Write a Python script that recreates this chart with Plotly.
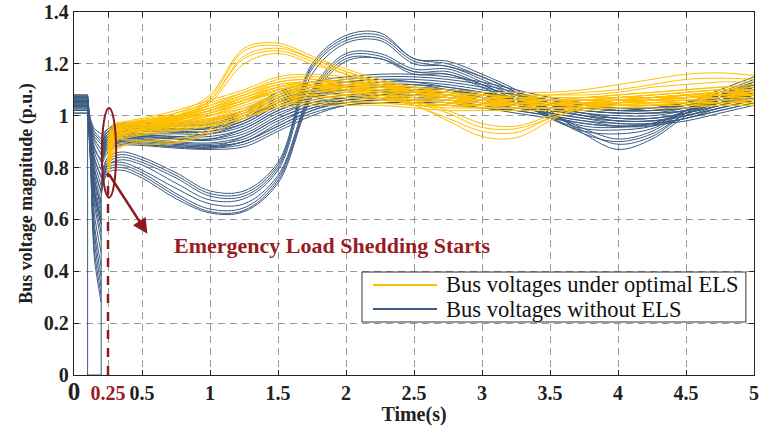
import plotly.graph_objects as go

# ---------------- data ----------------
T_PRE = [0, 0.1]
T_FAULT = [0.1, 0.12, 0.15, 0.2]
T_POST = [0.2, 0.25, 0.35, 0.5, 0.75, 1.0, 1.25, 1.5, 1.75, 2.0, 2.25, 2.5, 2.75,
          3.0, 3.25, 3.5, 3.75, 4.0, 4.25, 4.5, 4.75, 5.0]
T_ELS = [0.25, 0.3, 0.4, 0.5, 0.75, 1.0, 1.25, 1.5, 1.75, 2.0, 2.25, 2.5, 2.75,
         3.0, 3.25, 3.5, 3.75, 4.0, 4.25, 4.5, 4.75, 5.0]

blue_pre = [1.08, 1.075, 1.07, 1.065, 1.06, 1.06, 1.055, 1.05, 1.05, 1.045, 1.04, 1.04,
            1.035, 1.03, 1.02, 1.01, 1.08, 1.07, 1.06, 1.05, 1.04, 1.03, 1.02, 1.01,
            1.075, 1.065, 1.055, 1.045, 1.035, 1.025]
blue_f1 = [0.99, 0.98, 0.98, 0.97, 0.96, 0.96, 0.95, 0.95, 0.94, 0.93, 0.93, 0.92,
           0.91, 0.90, 0.89, 0.88, 0.90, 0.89, 0.88, 0.87, 0.86, 0.85, 0.84, 0.83,
           0.97, 0.96, 0.95, 0.94, 0.93, 0.92]
blue_f2 = [0.95, 0.94, 0.93, 0.91, 0.90, 0.88, 0.86, 0.84, 0.82, 0.80, 0.78, 0.76,
           0.74, 0.72, 0.70, 0.68, 0.70, 0.66, 0.62, 0.58, 0.55, 0.52, 0.48, 0.45,
           0.92, 0.87, 0.83, 0.79, 0.75, 0.71]
blue_f3 = [0.93, 0.91, 0.90, 0.87, 0.85, 0.82, 0.79, 0.76, 0.73, 0.70, 0.67, 0.64,
           0.62, 0.60, 0.58, 0.55, 0.58, 0.52, 0.47, 0.42, 0.38, 0.34, 0.31, 0.28,
           0.89, 0.83, 0.77, 0.71, 0.66, 0.60]

# faulted bus (voltage collapses to zero during the fault)
fault_bus_t = [0, 0.1, 0.1, 0.2, 0.2]
fault_bus_v = [1.05, 1.05, 0, 0, 0.69]

blue_post = [
    [0.90, 0.95, 0.97, 0.97, 0.97, 0.98, 1.02, 1.09, 1.13, 1.15, 1.16, 1.16, 1.15, 1.13, 1.10, 1.07, 1.05, 1.04, 1.04, 1.05, 1.10, 1.15],
    [0.89, 0.94, 0.96, 0.96, 0.965, 0.97, 1.01, 1.08, 1.12, 1.14, 1.15, 1.15, 1.14, 1.12, 1.09, 1.06, 1.04, 1.03, 1.03, 1.05, 1.09, 1.14],
    [0.88, 0.94, 0.955, 0.955, 0.96, 0.965, 1.0, 1.07, 1.11, 1.13, 1.14, 1.14, 1.13, 1.11, 1.08, 1.06, 1.04, 1.03, 1.03, 1.04, 1.08, 1.13],
    [0.87, 0.93, 0.95, 0.95, 0.95, 0.955, 0.99, 1.06, 1.10, 1.12, 1.13, 1.13, 1.12, 1.10, 1.08, 1.05, 1.03, 1.02, 1.02, 1.04, 1.07, 1.12],
    [0.86, 0.92, 0.94, 0.945, 0.945, 0.95, 0.98, 1.05, 1.09, 1.11, 1.12, 1.12, 1.11, 1.09, 1.07, 1.05, 1.03, 1.02, 1.02, 1.03, 1.07, 1.11],
    [0.86, 0.92, 0.935, 0.94, 0.94, 0.94, 0.97, 1.04, 1.08, 1.10, 1.11, 1.11, 1.10, 1.08, 1.06, 1.04, 1.02, 1.01, 1.01, 1.03, 1.06, 1.10],
    [0.85, 0.91, 0.93, 0.93, 0.93, 0.93, 0.96, 1.03, 1.07, 1.09, 1.10, 1.10, 1.09, 1.08, 1.06, 1.04, 1.02, 1.01, 1.01, 1.02, 1.06, 1.09],
    [0.85, 0.91, 0.925, 0.925, 0.92, 0.92, 0.95, 1.02, 1.06, 1.08, 1.09, 1.09, 1.09, 1.07, 1.05, 1.03, 1.01, 1.0, 1.0, 1.02, 1.05, 1.08],
    [0.84, 0.90, 0.92, 0.92, 0.915, 0.91, 0.94, 1.01, 1.05, 1.07, 1.08, 1.08, 1.08, 1.06, 1.05, 1.03, 1.01, 0.99, 0.99, 1.01, 1.05, 1.08],
    [0.84, 0.90, 0.915, 0.915, 0.91, 0.905, 0.93, 1.0, 1.05, 1.07, 1.08, 1.08, 1.07, 1.06, 1.04, 1.02, 1.0, 0.99, 0.99, 1.01, 1.04, 1.07],
    [0.83, 0.89, 0.91, 0.91, 0.90, 0.895, 0.92, 0.99, 1.04, 1.06, 1.07, 1.07, 1.07, 1.05, 1.04, 1.02, 1.0, 0.98, 0.98, 1.0, 1.04, 1.07],
    [0.83, 0.89, 0.905, 0.905, 0.895, 0.89, 0.91, 0.98, 1.03, 1.06, 1.07, 1.07, 1.06, 1.05, 1.03, 1.01, 0.99, 0.98, 0.98, 1.0, 1.03, 1.06],
    [0.82, 0.88, 0.90, 0.90, 0.89, 0.885, 0.90, 0.97, 1.03, 1.05, 1.06, 1.06, 1.06, 1.04, 1.03, 1.01, 0.99, 0.97, 0.97, 0.99, 1.03, 1.06],
    [0.82, 0.88, 0.895, 0.895, 0.885, 0.88, 0.90, 0.96, 1.02, 1.05, 1.06, 1.06, 1.05, 1.04, 1.02, 1.0, 0.98, 0.97, 0.97, 0.99, 1.02, 1.05],
    [0.81, 0.87, 0.89, 0.89, 0.88, 0.875, 0.89, 0.95, 1.01, 1.04, 1.05, 1.05, 1.05, 1.03, 1.02, 1.0, 0.98, 0.96, 0.96, 0.99, 1.02, 1.05],
    [0.80, 0.86, 0.885, 0.885, 0.875, 0.87, 0.88, 0.94, 1.0, 1.04, 1.05, 1.05, 1.04, 1.03, 1.01, 0.99, 0.97, 0.96, 0.965, 0.98, 1.01, 1.04],
    [0.76, 0.84, 0.86, 0.84, 0.78, 0.71, 0.71, 0.82, 1.20, 1.31, 1.32, 1.22, 1.21, 1.16, 1.10, 1.02, 0.93, 0.87, 0.91, 1.00, 1.08, 1.13],
    [0.75, 0.83, 0.85, 0.83, 0.77, 0.70, 0.70, 0.81, 1.19, 1.30, 1.31, 1.22, 1.20, 1.15, 1.09, 1.01, 0.94, 0.89, 0.92, 1.01, 1.08, 1.12],
    [0.74, 0.82, 0.84, 0.82, 0.76, 0.69, 0.69, 0.80, 1.18, 1.29, 1.30, 1.21, 1.19, 1.15, 1.09, 1.0, 0.93, 0.90, 0.93, 1.01, 1.07, 1.11],
    [0.73, 0.81, 0.83, 0.81, 0.74, 0.675, 0.68, 0.79, 1.16, 1.28, 1.29, 1.20, 1.19, 1.14, 1.08, 1.01, 0.95, 0.91, 0.94, 1.02, 1.08, 1.12],
    [0.72, 0.81, 0.82, 0.79, 0.72, 0.66, 0.66, 0.77, 1.10, 1.24, 1.24, 1.18, 1.18, 1.13, 1.07, 0.99, 0.94, 0.93, 0.95, 1.02, 1.07, 1.10],
    [0.71, 0.80, 0.81, 0.78, 0.70, 0.64, 0.645, 0.76, 1.09, 1.23, 1.23, 1.17, 1.17, 1.12, 1.06, 0.99, 0.95, 0.945, 0.96, 1.02, 1.06, 1.09],
    [0.70, 0.79, 0.80, 0.77, 0.69, 0.63, 0.635, 0.75, 1.08, 1.22, 1.22, 1.17, 1.16, 1.12, 1.06, 1.0, 0.96, 0.955, 0.97, 1.02, 1.06, 1.08],
    [0.69, 0.78, 0.79, 0.76, 0.68, 0.625, 0.63, 0.74, 1.07, 1.21, 1.22, 1.16, 1.16, 1.11, 1.05, 1.0, 0.97, 0.96, 0.97, 1.01, 1.05, 1.08],
    [0.92, 0.95, 0.96, 0.96, 0.95, 0.95, 0.99, 1.05, 1.09, 1.11, 1.12, 1.12, 1.10, 1.07, 1.05, 1.04, 1.03, 1.02, 1.03, 1.05, 1.08, 1.11],
    [0.88, 0.93, 0.94, 0.93, 0.92, 0.93, 0.97, 1.04, 1.08, 1.10, 1.10, 1.09, 1.08, 1.06, 1.05, 1.04, 1.03, 1.02, 1.02, 1.03, 1.05, 1.07],
    [0.83, 0.90, 0.92, 0.91, 0.89, 0.88, 0.92, 0.99, 1.04, 1.07, 1.09, 1.10, 1.10, 1.08, 1.06, 1.03, 1.01, 0.99, 0.99, 1.01, 1.04, 1.08],
    [0.81, 0.88, 0.90, 0.89, 0.88, 0.875, 0.90, 0.96, 1.02, 1.06, 1.08, 1.09, 1.09, 1.08, 1.06, 1.03, 1.0, 0.98, 0.98, 1.0, 1.03, 1.06],
    [0.87, 0.92, 0.94, 0.94, 0.935, 0.94, 0.98, 1.05, 1.10, 1.13, 1.14, 1.13, 1.11, 1.09, 1.06, 1.04, 1.02, 1.01, 1.01, 1.02, 1.05, 1.09],
    [0.85, 0.91, 0.92, 0.92, 0.91, 0.91, 0.95, 1.02, 1.07, 1.10, 1.11, 1.11, 1.10, 1.09, 1.07, 1.05, 1.03, 1.02, 1.03, 1.04, 1.07, 1.10],
]

yellow_post = [
    [0.86, 0.94, 0.97, 0.98, 1.01, 1.08, 1.26, 1.28, 1.23, 1.18, 1.14, 1.11, 1.09, 1.08, 1.07, 1.06, 1.06, 1.06, 1.07, 1.08, 1.09, 1.10],
    [0.85, 0.93, 0.96, 0.97, 1.00, 1.07, 1.25, 1.27, 1.22, 1.17, 1.13, 1.10, 1.08, 1.07, 1.06, 1.06, 1.05, 1.06, 1.06, 1.07, 1.08, 1.09],
    [0.84, 0.93, 0.96, 0.97, 0.995, 1.06, 1.23, 1.26, 1.22, 1.17, 1.13, 1.09, 1.07, 1.07, 1.06, 1.05, 1.05, 1.05, 1.06, 1.07, 1.08, 1.08],
    [0.83, 0.92, 0.95, 0.96, 0.99, 1.06, 1.22, 1.25, 1.21, 1.16, 1.12, 1.09, 1.07, 1.06, 1.05, 1.05, 1.05, 1.05, 1.06, 1.06, 1.07, 1.08],
    [0.82, 0.92, 0.95, 0.96, 0.985, 1.05, 1.20, 1.24, 1.20, 1.16, 1.12, 1.08, 1.06, 1.06, 1.05, 1.04, 1.04, 1.05, 1.05, 1.06, 1.07, 1.07],
    [0.80, 0.90, 0.94, 0.95, 0.97, 1.01, 1.06, 1.10, 1.12, 1.11, 1.07, 1.04, 0.98, 0.92, 0.915, 0.98, 1.04, 1.06, 1.07, 1.08, 1.09, 1.10],
    [0.79, 0.90, 0.93, 0.95, 0.97, 1.0, 1.05, 1.09, 1.11, 1.10, 1.07, 1.04, 0.99, 0.94, 0.935, 0.99, 1.03, 1.05, 1.06, 1.07, 1.08, 1.09],
    [0.81, 0.91, 0.94, 0.95, 0.98, 1.02, 1.06, 1.10, 1.11, 1.10, 1.08, 1.05, 1.01, 0.955, 0.95, 0.99, 1.03, 1.05, 1.06, 1.07, 1.08, 1.09],
    [0.82, 0.91, 0.94, 0.96, 0.98, 1.02, 1.07, 1.11, 1.12, 1.11, 1.09, 1.06, 1.02, 0.97, 0.96, 1.0, 1.04, 1.06, 1.07, 1.08, 1.09, 1.10],
    [0.76, 0.86, 0.89, 0.89, 0.895, 0.93, 0.99, 1.04, 1.07, 1.07, 1.06, 1.05, 1.04, 1.03, 1.03, 1.03, 1.03, 1.04, 1.04, 1.05, 1.05, 1.06],
    [0.77, 0.87, 0.89, 0.90, 0.90, 0.94, 1.0, 1.05, 1.08, 1.08, 1.07, 1.06, 1.05, 1.04, 1.04, 1.04, 1.04, 1.04, 1.05, 1.05, 1.06, 1.06],
    [0.78, 0.88, 0.90, 0.905, 0.91, 0.95, 1.01, 1.06, 1.08, 1.08, 1.07, 1.06, 1.05, 1.04, 1.03, 1.03, 1.03, 1.04, 1.04, 1.05, 1.05, 1.05],
    [0.88, 0.95, 0.97, 0.98, 1.00, 1.03, 1.07, 1.11, 1.13, 1.13, 1.12, 1.11, 1.10, 1.09, 1.09, 1.09, 1.10, 1.12, 1.14, 1.16, 1.165, 1.155],
    [0.87, 0.94, 0.97, 0.98, 0.99, 1.02, 1.06, 1.10, 1.12, 1.12, 1.11, 1.10, 1.09, 1.08, 1.08, 1.08, 1.09, 1.10, 1.12, 1.14, 1.145, 1.14],
    [0.86, 0.94, 0.96, 0.97, 0.99, 1.02, 1.06, 1.09, 1.11, 1.11, 1.10, 1.09, 1.08, 1.08, 1.07, 1.08, 1.08, 1.09, 1.11, 1.12, 1.13, 1.13],
    [0.95, 0.97, 0.98, 0.99, 1.02, 1.06, 1.10, 1.15, 1.16, 1.15, 1.13, 1.11, 1.09, 1.08, 1.07, 1.07, 1.07, 1.08, 1.09, 1.10, 1.11, 1.11],
    [0.94, 0.965, 0.975, 0.985, 1.01, 1.05, 1.09, 1.14, 1.15, 1.14, 1.12, 1.10, 1.09, 1.08, 1.07, 1.07, 1.07, 1.07, 1.08, 1.09, 1.10, 1.10],
    [0.93, 0.96, 0.97, 0.98, 1.0, 1.04, 1.08, 1.13, 1.14, 1.13, 1.12, 1.10, 1.08, 1.07, 1.07, 1.06, 1.06, 1.07, 1.08, 1.09, 1.10, 1.10],
    [0.92, 0.955, 0.97, 0.975, 0.995, 1.03, 1.07, 1.12, 1.13, 1.13, 1.11, 1.09, 1.08, 1.07, 1.06, 1.06, 1.06, 1.07, 1.07, 1.08, 1.09, 1.09],
    [0.91, 0.95, 0.965, 0.97, 0.99, 1.02, 1.06, 1.11, 1.13, 1.12, 1.10, 1.09, 1.07, 1.06, 1.06, 1.06, 1.06, 1.06, 1.07, 1.08, 1.09, 1.09],
    [0.90, 0.945, 0.96, 0.965, 0.985, 1.01, 1.05, 1.10, 1.12, 1.11, 1.10, 1.08, 1.07, 1.06, 1.06, 1.05, 1.05, 1.06, 1.07, 1.07, 1.08, 1.08],
    [0.89, 0.94, 0.955, 0.96, 0.98, 1.01, 1.05, 1.09, 1.11, 1.11, 1.09, 1.08, 1.06, 1.06, 1.05, 1.05, 1.05, 1.06, 1.06, 1.07, 1.08, 1.08],
    [0.88, 0.935, 0.95, 0.955, 0.975, 1.0, 1.04, 1.08, 1.10, 1.10, 1.09, 1.07, 1.06, 1.05, 1.05, 1.05, 1.05, 1.05, 1.06, 1.07, 1.07, 1.07],
    [0.87, 0.93, 0.945, 0.95, 0.97, 0.99, 1.03, 1.08, 1.10, 1.09, 1.08, 1.07, 1.06, 1.05, 1.05, 1.04, 1.05, 1.05, 1.06, 1.06, 1.07, 1.07],
    [0.86, 0.925, 0.94, 0.945, 0.965, 0.985, 1.02, 1.07, 1.09, 1.09, 1.08, 1.06, 1.05, 1.05, 1.04, 1.04, 1.04, 1.05, 1.05, 1.06, 1.06, 1.07],
    [0.85, 0.92, 0.935, 0.94, 0.96, 0.98, 1.02, 1.06, 1.08, 1.08, 1.07, 1.06, 1.05, 1.04, 1.04, 1.04, 1.04, 1.04, 1.05, 1.05, 1.06, 1.06],
    [0.84, 0.915, 0.93, 0.94, 0.955, 0.975, 1.01, 1.05, 1.08, 1.08, 1.07, 1.05, 1.04, 1.04, 1.04, 1.03, 1.04, 1.04, 1.04, 1.05, 1.05, 1.06],
    [0.83, 0.91, 0.925, 0.935, 0.95, 0.97, 1.0, 1.05, 1.07, 1.07, 1.06, 1.05, 1.04, 1.03, 1.03, 1.03, 1.03, 1.04, 1.04, 1.04, 1.05, 1.05],
    [0.82, 0.905, 0.92, 0.93, 0.945, 0.965, 0.99, 1.04, 1.06, 1.06, 1.05, 1.04, 1.03, 1.03, 1.03, 1.03, 1.03, 1.03, 1.04, 1.04, 1.04, 1.04],
    [0.81, 0.90, 0.915, 0.925, 0.94, 0.96, 0.99, 1.03, 1.04, 1.04, 1.04, 1.03, 1.02, 1.02, 1.02, 1.02, 1.02, 1.03, 1.03, 1.03, 1.04, 1.04],
    [0.90, 0.95, 0.965, 0.97, 0.99, 1.03, 1.08, 1.12, 1.13, 1.12, 1.10, 1.08, 1.07, 1.06, 1.06, 1.06, 1.07, 1.08, 1.09, 1.10, 1.11, 1.12],
    [0.89, 0.94, 0.955, 0.96, 0.975, 1.0, 1.03, 1.07, 1.10, 1.11, 1.11, 1.10, 1.08, 1.06, 1.05, 1.04, 1.04, 1.05, 1.06, 1.08, 1.09, 1.09],
    [0.87, 0.93, 0.95, 0.955, 0.97, 0.99, 1.02, 1.06, 1.09, 1.10, 1.10, 1.09, 1.07, 1.05, 1.04, 1.04, 1.05, 1.06, 1.07, 1.08, 1.08, 1.08],
    [0.85, 0.92, 0.94, 0.95, 0.965, 0.985, 1.02, 1.08, 1.11, 1.12, 1.11, 1.09, 1.07, 1.06, 1.05, 1.05, 1.06, 1.07, 1.08, 1.09, 1.10, 1.11],
    [0.83, 0.915, 0.935, 0.945, 0.96, 0.98, 1.01, 1.04, 1.05, 1.05, 1.05, 1.04, 1.04, 1.04, 1.05, 1.06, 1.06, 1.06, 1.06, 1.07, 1.07, 1.07],
    [0.92, 0.955, 0.965, 0.975, 1.0, 1.04, 1.09, 1.13, 1.14, 1.13, 1.11, 1.09, 1.08, 1.07, 1.06, 1.06, 1.06, 1.06, 1.07, 1.08, 1.08, 1.09],
]

x_tickvals = [0, 0.25, 0.5, 1, 1.5, 2, 2.5, 3, 3.5, 4, 4.5, 5]
x_ticktext = ['<span style="font-size:25px">0</span>',
              '<span style="color:#9b1c1f">0.25</span>',
              '0.5', '1', '1.5', '2', '2.5', '3', '3.5', '4', '4.5', '5']
y_tickvals = [0, 0.2, 0.4, 0.6, 0.8, 1.0, 1.2, 1.4]
y_ticktext = ['0', '0.2', '0.4', '0.6', '0.8', '1', '1.2', '1.4']

ELS_START = 0.25
NAME_ELS = 'Bus voltages under optimal ELS'
NAME_NO = 'Bus voltages without ELS'
annot_text = 'Emergency Load Shedding Starts'

# ---------------- style ----------------
BLUE = '#3b5b82'
YELLOW = '#ffc000'
DARKRED = '#8e1a1e'
FONT = 'Liberation Serif'
LW = 1.0

fig = go.Figure()

# blue: without ELS
fig.add_trace(go.Scatter(x=fault_bus_t, y=fault_bus_v, mode='lines', name=NAME_NO,
                         legendgroup='no', line=dict(color=BLUE, width=LW),
                         showlegend=False, hoverinfo='skip'))
for i in range(len(blue_post)):
    fig.add_trace(go.Scatter(
        x=T_PRE, y=[blue_pre[i], blue_pre[i]], mode='lines', name=NAME_NO,
        legendgroup='no', line=dict(color=BLUE, width=LW),
        showlegend=False, hoverinfo='skip'))
    fig.add_trace(go.Scatter(
        x=T_FAULT, y=[blue_pre[i], blue_f1[i], blue_f2[i], blue_f3[i]], mode='lines',
        name=NAME_NO, legendgroup='no',
        line=dict(color=BLUE, width=LW, shape='spline', smoothing=0.8),
        showlegend=False, hoverinfo='skip'))
    fig.add_trace(go.Scatter(
        x=T_POST, y=blue_post[i], mode='lines', name=NAME_NO, legendgroup='no',
        line=dict(color=BLUE, width=LW, shape='spline', smoothing=1.0),
        showlegend=False, hoverinfo='skip'))

# yellow: with optimal ELS
for i in range(len(yellow_post)):
    fig.add_trace(go.Scatter(
        x=T_ELS, y=yellow_post[i], mode='lines', name=NAME_ELS, legendgroup='els',
        line=dict(color=YELLOW, width=LW, shape='spline', smoothing=1.0),
        showlegend=False, hoverinfo='skip'))

# red marks
fig.add_shape(type='line', x0=ELS_START, x1=ELS_START, y0=0, y1=0.78,
              line=dict(color=DARKRED, width=2.5, dash='dash'), layer='above')
fig.add_shape(type='circle', x0=0.205, x1=0.31, y0=0.685, y1=1.03,
              line=dict(color=DARKRED, width=2), layer='above')
fig.add_annotation(x=0.54, y=0.545, ax=0.25, ay=0.78, xref='x', yref='y',
                   axref='x', ayref='y', showarrow=True, arrowhead=2,
                   arrowsize=1.2, arrowwidth=2.5, arrowcolor=DARKRED, text='')
fig.add_annotation(x=1.895, y=0.50, xref='x', yref='y', text=annot_text,
                   showarrow=False,
                   font=dict(family=FONT, size=22, color='#9b1c1f', weight='bold'))

# legend box (drawn in paper coordinates)
fig.add_shape(type='rect', xref='paper', yref='paper', x0=0.4235, x1=0.988,
              y0=0.146, y1=0.2837, fillcolor='white',
              line=dict(color='#333', width=1), layer='above')
fig.add_shape(type='line', xref='paper', yref='paper', x0=0.4397, x1=0.5338,
              y0=0.248, y1=0.248, line=dict(color=YELLOW, width=2), layer='above')
fig.add_shape(type='line', xref='paper', yref='paper', x0=0.4397, x1=0.5338,
              y0=0.1818, y1=0.1818, line=dict(color=BLUE, width=2), layer='above')
fig.add_annotation(x=0.544, y=0.248, xref='paper', yref='paper', text=NAME_ELS,
                   showarrow=False, xanchor='left', yanchor='middle',
                   font=dict(family=FONT, size=22.5, color='#111'))
fig.add_annotation(x=0.544, y=0.1818, xref='paper', yref='paper', text=NAME_NO,
                   showarrow=False, xanchor='left', yanchor='middle',
                   font=dict(family=FONT, size=22.5, color='#111'))

fig.update_layout(
    width=767, height=426,
    margin=dict(l=74, r=13, t=12, b=51),
    paper_bgcolor='white', plot_bgcolor='white',
    font=dict(family=FONT, color='#222'),
    showlegend=False,
    xaxis=dict(range=[0, 5], tickvals=x_tickvals, ticktext=x_ticktext,
               tickangle=0, automargin=False,
               showgrid=True, gridcolor='#9a9a9a', griddash='7px,5px',
               gridwidth=1, showline=True, linecolor='#222', linewidth=1.3,
               mirror='ticks', ticks='inside', ticklen=5, tickcolor='#222',
               zeroline=False,
               tickfont=dict(family=FONT, size=20, color='#222', weight='bold'),
               title=dict(text='Time(s)', standoff=2,
                          font=dict(family=FONT, size=20, color='#222', weight='bold'))),
    yaxis=dict(range=[0, 1.4], tickvals=y_tickvals, ticktext=y_ticktext,
               automargin=False,
               showgrid=True, gridcolor='#9a9a9a', griddash='7px,5px', gridwidth=1,
               showline=True, linecolor='#222', linewidth=1.3, mirror='ticks',
               ticks='inside', ticklen=5, tickcolor='#222', zeroline=False,
               tickfont=dict(family=FONT, size=20, color='#222', weight='bold'),
               title=dict(text='Bus voltage magnitude (p.u.)', standoff=6,
                          font=dict(family=FONT, size=18, color='#222', weight='bold'))),
)

fig.write_html('out.html')
